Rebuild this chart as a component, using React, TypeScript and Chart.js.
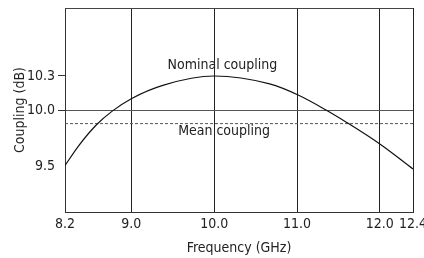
import React, { useEffect, useRef } from "react";
import { Chart, registerables } from "chart.js";

Chart.register(...registerables);

// Frequency (GHz) and coupling (dB)
const freqGHz = [8.2, 8.36, 8.58, 8.77, 9.0, 9.39, 10.0, 10.67, 11.02, 11.35, 11.6, 12.0, 12.4];
const couplingDb = [9.51, 9.68, 9.87, 9.99, 10.1, 10.22, 10.3, 10.23, 10.13, 10.0, 9.89, 9.7, 9.48];

const meanCouplingDb = 9.88;

const xTicks = [8.2, 9.0, 10.0, 11.0, 12.0, 12.4];
const xTickLabels = ["8.2", "9.0", "10.0", "11.0", "12.0", "12.4"];
const yTicks = [9.5, 10.0, 10.3];
const yTickLabels = ["9.5", "10.0", "10.3"];

const noteTexts = ["Nominal coupling", "Mean coupling"];
const noteFreq = [10.1, 10.12];
const noteDb = [10.39, 9.81];

const FONT = '"Liberation Sans Narrow", "DejaVu Sans Condensed", "Roboto", sans-serif';
const FONT_SIZE = 14;
const TEXT = "#222";

export default function App() {
  const ref = useRef<HTMLCanvasElement>(null);

  useEffect(() => {
    const canvas = ref.current;
    if (!canvas) return;
    const font = { family: FONT, size: FONT_SIZE, weight: "normal" as const };

    const framePlugin = {
      id: "frame",
      afterDraw(chart: any) {
        const { ctx, chartArea } = chart;
        ctx.save();
        ctx.strokeStyle = "#444";
        ctx.lineWidth = 1;
        ctx.beginPath();
        ctx.moveTo(chartArea.left, chartArea.top + 0.5);
        ctx.lineTo(chartArea.right, chartArea.top + 0.5);
        ctx.stroke();
        ctx.restore();
      },
    };

    const notesPlugin = {
      id: "notes",
      afterDatasetsDraw(chart: any) {
        const { ctx } = chart;
        const xs = chart.scales.x;
        const ys = chart.scales.y;
        ctx.save();
        ctx.font = `${FONT_SIZE}px ${FONT}`;
        ctx.fillStyle = TEXT;
        ctx.textAlign = "center";
        ctx.textBaseline = "middle";
        noteTexts.forEach((t, i) => {
          ctx.fillText(t, xs.getPixelForValue(noteFreq[i]), ys.getPixelForValue(noteDb[i]));
        });
        ctx.restore();
      },
    };

    const chart = new Chart(canvas, {
      type: "line",
      data: {
        datasets: [
          {
            data: freqGHz.map((x, i) => ({ x, y: couplingDb[i] })),
            borderColor: "#111",
            borderWidth: 1.2,
            pointRadius: 0,
            cubicInterpolationMode: "monotone",
            fill: false,
          },
          {
            data: [
              { x: xTicks[0], y: meanCouplingDb },
              { x: xTicks[xTicks.length - 1], y: meanCouplingDb },
            ],
            borderColor: "#555",
            borderWidth: 1,
            borderDash: [3, 2],
            pointRadius: 0,
            fill: false,
          },
        ],
      },
      options: {
        animation: false,
        responsive: false,
        devicePixelRatio: 1,
        layout: { padding: { top: 8, right: 11, left: 0, bottom: 0 } },
        plugins: { legend: { display: false }, tooltip: { enabled: false } },
        scales: {
          x: {
            type: "linear",
            min: xTicks[0],
            max: xTicks[xTicks.length - 1],
            afterBuildTicks: (s: any) => {
              s.ticks = xTicks.map((v) => ({ value: v }));
            },
            afterFit: (s: any) => {
              s.height = 46;
              s.paddingLeft = 0;
              s.paddingRight = 0;
            },
            grid: { color: "#222", lineWidth: 1, drawTicks: false },
            border: { color: "#333", width: 1 },
            ticks: {
              font,
              color: TEXT,
              padding: 4,
              maxRotation: 0,
              autoSkip: false,
              callback: (_v: any, i: number) => xTickLabels[i],
            },
            title: {
              display: true,
              text: "Frequency (GHz)",
              font,
              color: TEXT,
              padding: { top: 0, bottom: 1 },
            },
          },
          y: {
            type: "linear",
            min: 9.1,
            max: 10.9,
            afterBuildTicks: (s: any) => {
              s.ticks = yTicks.map((v) => ({ value: v }));
            },
            afterFit: (s: any) => {
              s.width = 65;
              s.paddingTop = 0;
              s.paddingBottom = 0;
            },
            grid: {
              color: (c: any) => (c.tick && c.tick.value === 10 ? "#555" : "rgba(0,0,0,0)"),
              tickColor: (c: any) => (c.tick && c.tick.value === 9.5 ? "rgba(0,0,0,0)" : "#333"),
              tickLength: 7,
              lineWidth: 1,
            },
            border: { color: "#333", width: 1 },
            ticks: {
              font,
              color: TEXT,
              padding: 3,
              autoSkip: false,
              callback: (_v: any, i: number) => yTickLabels[i],
            },
            title: {
              display: true,
              text: "Coupling (dB)",
              font,
              color: TEXT,
              padding: { top: 12, bottom: 0 },
            },
          },
        },
      },
      plugins: [framePlugin, notesPlugin],
    } as any);

    return () => chart.destroy();
  }, []);

  return (
    <div style={{ position: "absolute", left: 0, top: 0, width: 424, height: 258, background: "#fff" }}>
      <canvas ref={ref} width={424} height={258} style={{ display: "block" }} />
    </div>
  );
}
